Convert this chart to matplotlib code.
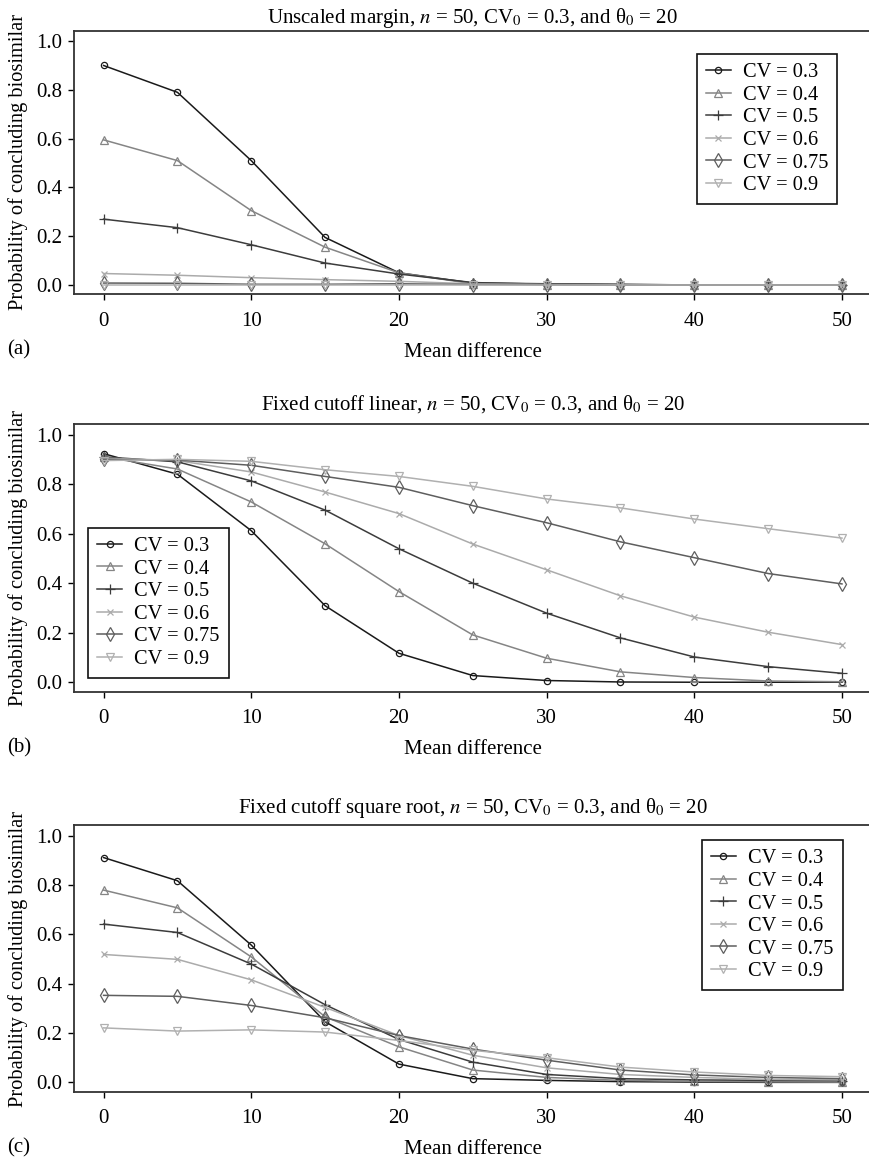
import matplotlib
matplotlib.use("Agg")
import matplotlib.pyplot as plt

plt.rcParams["font.family"] = ["Liberation Serif", "DejaVu Serif"]
plt.rcParams["mathtext.fontset"] = "stix"

mean_diff = [0, 5, 10, 15, 20, 25, 30, 35, 40, 45, 50]
cv_labels = ["CV = 0.3", "CV = 0.4", "CV = 0.5", "CV = 0.6", "CV = 0.75", "CV = 0.9"]

# (a) unscaled margin
unscaled = [
    [0.90, 0.79, 0.51, 0.195, 0.05, 0.008, 0.005, 0.003, 0.0, 0.0, 0.0],
    [0.595, 0.51, 0.305, 0.155, 0.05, 0.005, 0.002, 0.001, 0.0, 0.0, 0.0],
    [0.27, 0.235, 0.165, 0.09, 0.045, 0.01, 0.003, 0.001, 0.0, 0.0, 0.0],
    [0.047, 0.04, 0.03, 0.022, 0.015, 0.005, 0.002, 0.001, 0.0, 0.0, 0.0],
    [0.008, 0.007, 0.003, 0.003, 0.005, 0.002, 0.001, 0.0, 0.0, 0.0, 0.0],
    [0.0, 0.0, 0.0, 0.0, 0.0, 0.0, 0.0, 0.0, 0.0, 0.0, 0.0],
]

# (b) fixed cutoff linear
linear = [
    [0.923, 0.84, 0.612, 0.309, 0.117, 0.027, 0.007, 0.001, 0.0, 0.0, 0.0],
    [0.91, 0.861, 0.728, 0.559, 0.366, 0.191, 0.097, 0.042, 0.019, 0.005, 0.002],
    [0.91, 0.89, 0.813, 0.695, 0.539, 0.40, 0.279, 0.179, 0.102, 0.063, 0.036],
    [0.905, 0.895, 0.849, 0.768, 0.681, 0.558, 0.454, 0.349, 0.263, 0.202, 0.152],
    [0.90, 0.897, 0.876, 0.831, 0.787, 0.713, 0.644, 0.567, 0.503, 0.439, 0.397],
    [0.895, 0.90, 0.892, 0.858, 0.831, 0.791, 0.74, 0.704, 0.659, 0.62, 0.582],
]

# (c) fixed cutoff square root
sqrt_cut = [
    [0.912, 0.818, 0.557, 0.246, 0.074, 0.015, 0.008, 0.003, 0.001, 0.0, 0.0],
    [0.78, 0.708, 0.509, 0.266, 0.144, 0.05, 0.02, 0.008, 0.004, 0.002, 0.001],
    [0.642, 0.608, 0.48, 0.315, 0.174, 0.082, 0.032, 0.015, 0.01, 0.008, 0.007],
    [0.519, 0.499, 0.416, 0.304, 0.19, 0.11, 0.059, 0.032, 0.02, 0.012, 0.01],
    [0.353, 0.349, 0.312, 0.262, 0.19, 0.135, 0.09, 0.05, 0.03, 0.02, 0.015],
    [0.221, 0.208, 0.213, 0.204, 0.17, 0.13, 0.10, 0.062, 0.042, 0.028, 0.023],
]

colors = ["#1a1a1a", "#858585", "#3c3c3c", "#ababab", "#5e5e5e", "#b0b0b0"]
markers = ["o", "^", "+", "x", "d", "v"]
marker_sizes = [4.5, 5.5, 7, 5, 7, 5.5]

titles = [
    r"Unscaled margin, $n$ = 50, CV$_0$ = 0.3, and θ$_0$ = 20",
    r"Fixed cutoff linear, $n$ = 50, CV$_0$ = 0.3, and θ$_0$ = 20",
    r"Fixed cutoff square root, $n$ = 50, CV$_0$ = 0.3, and θ$_0$ = 20",
]


def desenhar_painel(ax, series, title, title_pad, legend_loc, legend_anchor):
    for vals, lab, c, m, ms in zip(series, cv_labels, colors, markers, marker_sizes):
        ax.plot(mean_diff, vals, color=c, marker=m, markersize=ms,
                markerfacecolor="none", markeredgecolor=c, markeredgewidth=0.9,
                linewidth=1.1, label=lab)
    ax.set_xlim(-2, 52)
    ax.set_ylim(-0.038, 1.043)
    ax.set_xticks([0, 10, 20, 30, 40, 50])
    ax.set_yticks([0.0, 0.2, 0.4, 0.6, 0.8, 1.0])
    ax.set_yticklabels(["0.0", "0.2", "0.4", "0.6", "0.8", "1.0"])
    ax.tick_params(labelsize=15, length=4.5, width=1, direction="out")
    ax.tick_params(axis="x", pad=8)
    ax.tick_params(axis="y", pad=4)
    ax.spines["right"].set_visible(False)
    for s in ["left", "bottom", "top"]:
        ax.spines[s].set_linewidth(1.3)
        ax.spines[s].set_color("#333333")
    ax.set_title(title, fontsize=15, pad=title_pad)
    ax.set_ylabel("Probability of concluding biosimilar", fontsize=14.7, labelpad=6)
    ax.set_xlabel("Mean difference", fontsize=15, labelpad=8.7)
    leg = ax.legend(loc=legend_loc, bbox_to_anchor=legend_anchor, fontsize=14.7,
                    handlelength=1.2, handletextpad=0.6, labelspacing=0.16,
                    borderpad=0.45, borderaxespad=0, fancybox=False, framealpha=1)
    leg.get_frame().set_edgecolor("#111111")
    leg.get_frame().set_linewidth(1.2)


fig = plt.figure(figsize=(8.69, 11.64), dpi=100)
ax_a = fig.add_axes([0.0852, 0.7472, 0.9177, 0.2265])
ax_b = fig.add_axes([0.0852, 0.4058, 0.9177, 0.2300])
ax_c = fig.add_axes([0.0852, 0.0621, 0.9177, 0.2289])

desenhar_painel(ax_a, unscaled, titles[0], 5.3, "upper left", (0.781, 0.912))
desenhar_painel(ax_b, linear, titles[1], 10, "lower left", (0.0176, 0.051))
desenhar_painel(ax_c, sqrt_cut, titles[2], 8.8, "upper left", (0.7875, 0.945))

fig.text(0.008, 1 - 350 / 1164, "(a)", fontsize=15, va="center")
fig.text(0.008, 1 - 748 / 1164, "(b)", fontsize=15, va="center")
fig.text(0.008, 1 - 1148 / 1164, "(c)", fontsize=15, va="center")

fig.savefig("out.png", dpi=100)
